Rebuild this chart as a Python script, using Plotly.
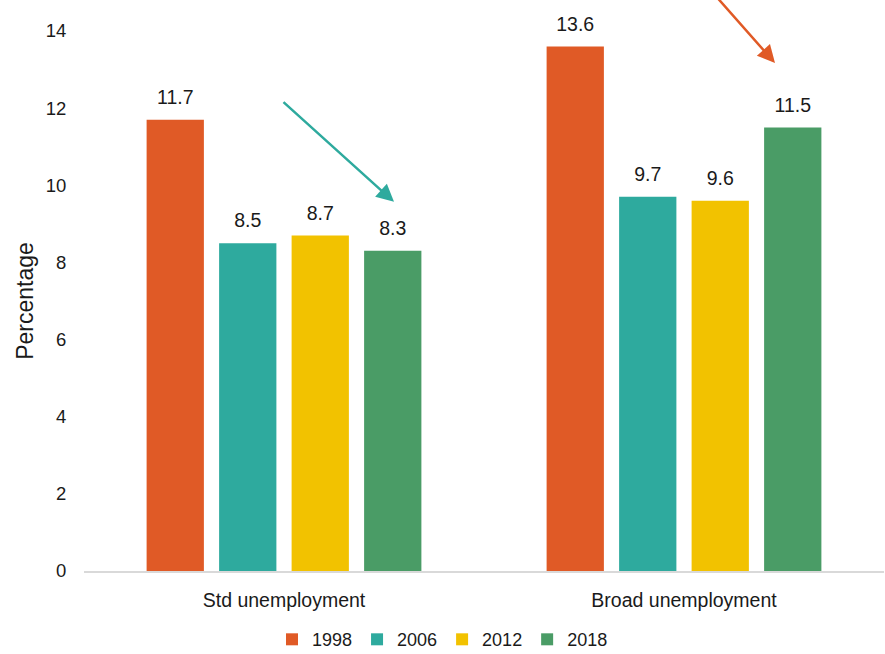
import plotly.graph_objects as go

categories = ["Std unemployment", "Broad unemployment"]
years = ["1998", "2006", "2012", "2018"]
values = {
    "1998": [11.7, 13.6],
    "2006": [8.5, 9.7],
    "2012": [8.7, 9.6],
    "2018": [8.3, 11.5],
}
colors = {"1998": "#E05A26", "2006": "#2EAA9E", "2012": "#F2C200", "2018": "#4A9C66"}

FONT = "Liberation Sans, Arial, sans-serif"
TXT = "#1A1A1A"

fig = go.Figure()
for y in years:
    fig.add_trace(go.Bar(
        name=y, x=categories, y=values[y], marker_color=colors[y],
        marker_line_width=0, offsetgroup=y, hoverinfo="skip",
    ))
for y in years:
    fig.add_trace(go.Scatter(
        x=categories, y=values[y], mode="markers+text", text=[f"{v:.1f}" for v in values[y]],
        textposition="top center", textfont=dict(size=19.5, color=TXT, family=FONT),
        marker=dict(size=16, opacity=0), offsetgroup=y, showlegend=False, hoverinfo="skip",
        cliponaxis=False,
    ))

fig.update_layout(
    width=885, height=654,
    margin=dict(l=84, r=1, t=31, b=83),
    paper_bgcolor="white", plot_bgcolor="white",
    barmode="group", bargap=0.275, bargroupgap=0.21,
    scattermode="group", scattergap=0.275,
    font=dict(family=FONT, size=19, color=TXT),
    showlegend=True,
    legend=dict(orientation="h", x=0.5, xref="container", xanchor="center",
                y=0.022, yref="container", yanchor="middle",
                font=dict(size=18, color=TXT), itemwidth=30, traceorder="normal"),
    xaxis=dict(showline=True, linecolor="#D9D9D9", linewidth=2, showgrid=False,
               ticks="outside", ticklen=11, tickcolor="rgba(0,0,0,0)",
               tickfont=dict(size=19.5, color=TXT), zeroline=False),
    yaxis=dict(range=[0, 14], dtick=2, showgrid=False, zeroline=False, showline=False,
               ticks="outside", ticklen=13, tickcolor="rgba(0,0,0,0)",
               tickfont=dict(size=18.5, color=TXT),
               title=dict(text="Percentage", font=dict(size=23, color=TXT), standoff=5)),
)

# trend arrows
fig.add_annotation(x=0.275, y=9.57, ax=-0.005, ay=12.19, xref="x", yref="y", axref="x", ayref="y",
                   showarrow=True, arrowhead=2, arrowsize=1.4, arrowwidth=2.5, arrowcolor="#2EAA9E", text="")
fig.add_annotation(x=1.2275, y=13.17, ax=1.0775, ay=14.93, xref="x", yref="y", axref="x", ayref="y",
                   showarrow=True, arrowhead=2, arrowsize=1.4, arrowwidth=2.5, arrowcolor="#E05A26", text="")

fig.write_html("out.html")
